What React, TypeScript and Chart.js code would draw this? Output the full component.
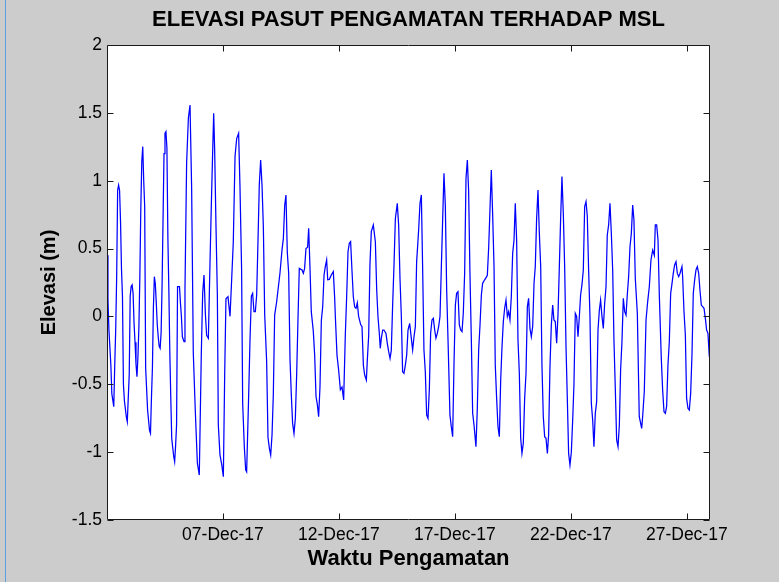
import React, { useEffect, useRef } from "react";
import { Chart, registerables } from "chart.js";

Chart.register(...registerables);

// Time in hours since 02-Dec-2017 00:00, and observed elevation (m) relative to MSL
const hours = [
  0, 1, 2, 4, 5, 7, 8, 9, 10, 11, 12, 13, 14, 15, 16, 17, 18, 20, 21, 22, 23, 24, 25, 26, 27, 28, 29, 30, 31, 32,
  33, 34, 35, 36, 37, 38, 39, 40, 42, 44, 45, 46, 47, 48, 49, 50, 51, 52, 53, 54, 55, 56, 57, 58, 59, 60, 61, 62,
  63, 64, 65, 66, 67, 69, 70, 71, 72, 73, 75, 76, 77, 78,
  79.7, 80.7, 82.4, 84.2, 85.9, 87.6, 89.3, 91.4, 93.5, 95.5, 97.6, 99, 100.4, 101.8, 103.1, 104.9, 106.6, 108,
  109.3, 110.4, 111.4, 112.8, 114.2, 115.2, 116.9, 118.7, 120.4, 121.8, 123.1, 125.2, 127.3, 129, 130.7, 132.5,
  134.2, 136.2, 137.6, 139.3, 140.4, 142.1, 143.5, 144.5, 146.6, 148, 149.4, 150.7, 152.1, 153.5, 154.9, 156.6, 157.6,
  159, 160.4, 161.8, 163.2, 165.2, 166.6, 168, 169.4, 170.8, 172.1, 173.5, 175.6, 179, 181.1, 182.5, 183.9, 185.2,
  186.6, 188, 189.4, 190.8, 192.1, 193.5, 194.9, 196.3, 197.6, 199, 201.8, 203.2, 204.5, 205.9, 207.6, 208.7, 210.1,
  211.4, 213.5, 214.9, 216.3, 217.7, 219, 220.4, 221.8, 223.2, 224.6, 225.9, 227.3, 228.4, 230.1, 232.1, 234.2, 235.6,
  236.3, 238, 239.7, 241.5, 243.2, 244.9, 246.6, 248, 249.4, 250.8, 252.1, 253.5, 254.9, 256.3, 257.7, 259, 260.4,
  262.5, 263.9, 265.3, 266.6, 268.4, 269.4, 270.8, 272.1, 273.5, 275.6, 277.7, 279.1, 280.4, 281.8, 282.8, 283.9,
  285.3, 286.6, 288.7, 290.1, 291.5, 292.9, 294.2, 295.6, 297, 298.4, 300.4, 301.8, 303.2, 304.6, 305.9, 307.3, 308.7,
  310.1, 311.5, 312.8,
  313.2, 314.9, 316.3, 317.7, 319.1, 320.4, 322.5, 323.9, 325.3, 326.6, 328, 329.4, 330.8, 332.2, 333.6, 334.9, 336.3,
  337.7, 339.1, 340.4, 341.8, 343.2, 344.6, 346, 347.3, 348.7, 350.1, 351.5, 352.9, 354.9, 356.3, 357.7, 359.1, 360.5,
  361.8, 363.2, 364.6, 366, 367.4, 368.7, 370.1, 371.5, 372.9, 374.2, 375.6, 377, 378.4, 379.8, 381.8, 383.2, 384.6,
  386, 387.4, 388.7, 390.8, 392.9,
  393.6, 395, 396.3, 397.7, 399.1, 400.5, 401.8, 403.2, 404.6, 406, 407.4, 408.7, 410.1, 411.5, 412.9, 414.3, 415.6,
  417, 418.4, 419.8, 421.2, 422.5, 423.9, 425.3, 426.7, 428.1, 429.4, 430.8, 432.2, 433.6, 435, 436.3, 437.7, 439.1,
  440.5, 441.9, 443.2, 444.6, 446, 447.4, 448.8, 450.1, 451.5, 452.9, 454.3, 455.7, 457, 458.4, 459.8, 461.2, 462.5,
  463.9, 465.3, 466.7, 468.1, 469.4, 470.8,
  472.2, 473.6, 475, 476.3, 477.7, 479.1, 480.5, 481.9, 483.2, 484.6, 486, 487.4, 488.8, 490.1, 491.5, 492.9, 494.3,
  495.7, 497, 498.4, 499.8, 501.2, 502.6, 503.9, 505.3, 506.7, 508.1, 509.5, 510.8, 512.2, 513.6, 515, 516.4, 517.7,
  519.1, 520.5, 521.9, 523.3, 524.6, 526, 527.4, 528.8, 530.2, 531.5, 532.9, 534.3, 535.7, 537.1, 538.4, 539.8, 541.2,
  542.6, 544, 545.3, 546.7, 548.8, 550.8,
  551.5, 552.6, 553.3, 554.3, 556, 557.8, 559.5, 561.2, 562.9, 564.7, 566.4, 567.4, 568.8, 570.2, 571.6, 573.6, 575,
  576.4, 577.8, 579.1, 580.5, 581.9, 583.3, 584.7, 586, 587.4, 588.8, 590.2, 591.6, 593, 595, 595.7, 597.1, 598.5,
  599.8, 601.2, 602.6, 604, 605.4, 606.7, 608.1, 609.5, 610.9, 612.3, 613.6, 615, 616.4, 617.8, 619.2, 620.5, 621.9,
  623.3,
];

const elevation = [
  0.45, 0.12, -0.1, -0.36, -0.57, -0.665, -0.36, -0.1, 0.29, 0.93, 0.968, 0.93, 0.7, 0.35, 0.15, -0.5, -0.62, -0.74,
  -0.776, -0.6, -0.43, 0.15, 0.22, 0.232, 0.17, -0.05, -0.19, -0.35, -0.444, -0.3,
  -0.08, 0.3, 0.8, 1.14, 1.251, 1.0, 0.81, -0.38, -0.69, -0.84, -0.862, -0.6, -0.38, 0.06, 0.293, 0.24, 0.1, -0.06,
  -0.15, -0.22, -0.235, -0.12, 0.23, 0.72, 1.2, 1.35, 1.362, 1.24,
  0.58, 0.2, -0.26, -0.6, -0.9, -1.03, -1.07, -0.95, -0.8, 0.22, 0.22, 0.1, 0.0, -0.15,
  -0.186, 0.2, 1.13, 1.46, 1.558, 0.94, -0.27, -0.7, -1.08, -1.169, -0.27, 0.17, 0.305, 0.02, -0.14, -0.161, 0.4, 0.83,
  1.2, 1.497, 1.23, 0.66, 0.16, -0.8, -1.02, -1.09, -1.181, -0.42, 0.13, 0.146, 0.0, 0.27, 0.55, 1.18,
  1.31, 1.349, 0.96, 0.34, -0.64, -0.96, -1.13, -1.144, -0.58, -0.17, 0.15, 0.17, 0.035, 0.035, 0.16, 0.66, 0.97,
  1.153, 0.97, 0.66, 0.01, -0.33, -0.89, -0.97, -1.021, -0.87, -0.58, 0.01, 0.11, 0.32, 0.49, 0.575, 0.82, 0.895,
  0.47, 0.32, -0.32, -0.59, -0.79, -0.862, -0.75, -0.42, -0.03, 0.354, 0.342, 0.318, 0.354, 0.5, 0.51, 0.649, 0.35,
  0.035, -0.11, -0.285, -0.59, -0.65, -0.739, -0.52, -0.03, 0.07, 0.305, 0.367, 0.416, 0.27, 0.273, 0.305, 0.33, 0.135,
  0.0, -0.285, -0.395, -0.54, -0.52, -0.616, -0.14, 0.145, 0.477, 0.54, 0.551, 0.34, 0.145, 0.07, 0.06, 0.1, 0.0,
  -0.06, -0.075, -0.36, -0.43, -0.469, -0.32, -0.14, 0.38, 0.625, 0.674, 0.55, 0.195, 0.0, -0.125, -0.235, -0.16,
  -0.1, -0.1, -0.125, -0.2, -0.26, -0.309, -0.25, 0.085, 0.38, 0.72, 0.833, 0.674, 0.28, 0.0, -0.408, -0.419, -0.36,
  -0.285, -0.1, -0.063,
  -0.05, -0.16, -0.247, -0.15, -0.075, 0.4, 0.637, 0.833, 0.895, 0.37, -0.247, -0.407, -0.727, -0.751, -0.53, -0.125, -0.026,
  -0.014, -0.1, -0.16, -0.125, -0.075, 0.0, 0.367, 0.7, 1.054, 0.82, 0.195, -0.174, -0.727, -0.813, -0.886, -0.345, 0.084,
  0.17, 0.182, -0.063, -0.1, -0.112, 0.023, 0.317, 1.017, 1.153, 0.93, 0.317, -0.16, -0.714, -0.8, -0.96, -0.68, -0.247,
  -0.063, 0.158, 0.244, 0.27, 0.293,
  0.305, 0.514, 0.784, 1.079, 0.747, 0.367, -0.358, -0.604, -0.813, -0.886, -0.47, -0.235, -0.04, 0.06, 0.121, 0.0, 0.035,
  -0.026, 0.146, 0.465, 0.563, 0.833, 0.563, -0.174, -0.42, -0.898, -1.009, -0.936, -0.604, -0.42, 0.072, 0.133, -0.088, -0.149,
  -0.075, 0.244, 0.367, 0.723, 0.932, 0.612, 0.367, -0.358, -0.739, -0.886, -0.898, -1.009, -0.874, -0.37, -0.063, 0.084, -0.026,
  -0.038, -0.198, 0.01, 0.367, 0.711, 1.03,
  0.76, 0.367, -0.223, -0.59, -1.009, -1.095, -1.0, -0.763, -0.505, 0.023, 0.0, -0.149, 0.0, 0.158, 0.232, 0.342, 0.809,
  0.846, 0.74, 0.342, 0.0, -0.64, -0.763, -0.96, -0.714, -0.628, -0.1, 0.047, 0.121, 0.0, -0.088, 0.096, 0.219, 0.6,
  0.674, 0.833, 0.612, 0.342, -0.174, -0.53, -0.91, -0.96, -0.8, -0.395, -0.186, 0.133, 0.035, 0.01, 0.158, 0.293, 0.514,
  0.612, 0.821, 0.71, 0.28, 0.023, -0.739,
  -0.739, -0.8, -0.825, -0.739, -0.555, -0.026, 0.109, 0.219, 0.416, 0.489, 0.45, 0.674, 0.674, 0.563, 0.146, -0.309, -0.542,
  -0.702, -0.714, -0.665, -0.358, -0.186, 0.17, 0.244, 0.317, 0.379, 0.403, 0.317, 0.293, 0.318, 0.367, 0.293, 0.035, -0.137,
  -0.604, -0.677, -0.69, -0.567, -0.272, 0.17, 0.268, 0.342, 0.367, 0.318, 0.195, 0.084, 0.072, 0.06, -0.014, -0.1, -0.125,
  -0.297,
];

const xMinHour = 0;
const xMaxHour = 624;
const xTickHours = [120, 240, 360, 480, 600];
const xTickLabels = ["07-Dec-17", "12-Dec-17", "17-Dec-17", "22-Dec-17", "27-Dec-17"];
const yTickValues = [-1.5, -1, -0.5, 0, 0.5, 1, 1.5, 2];
const yTickLabels = ["-1.5", "-1", "-0.5", "0", "0.5", "1", "1.5", "2"];

const chartTitle = "ELEVASI PASUT PENGAMATAN TERHADAP MSL";
const xTitle = "Waktu Pengamatan";
const yTitle = "Elevasi (m)";

const W = 779;
const H = 582;
const TICK_FONT = "'Liberation Sans Narrow', 'Arial Narrow', 'Liberation Sans', Arial, sans-serif";
const BOLD_FONT = "'Liberation Sans', Arial, Helvetica, sans-serif";

const framePlugin = {
  id: "matlabFrame",
  beforeDraw(chart: any) {
    const { ctx, chartArea: a } = chart;
    ctx.save();
    ctx.fillStyle = "#ffffff";
    ctx.fillRect(a.left, a.top, a.right - a.left, a.bottom - a.top);
    ctx.restore();
  },
  afterDraw(chart: any) {
    const { ctx, chartArea: a, scales } = chart;
    const L = Math.round(a.left) + 0.5;
    const R = Math.round(a.right) - 0.5;
    const T = Math.round(a.top) + 0.5;
    const B = Math.round(a.bottom) - 0.5;
    const len = 6;
    ctx.save();
    ctx.strokeStyle = "#1a1a1a";
    ctx.lineWidth = 1;
    ctx.beginPath();
    ctx.rect(L, T, R - L, B - T);
    for (const v of yTickValues) {
      const y = Math.round(scales.y.getPixelForValue(v)) + 0.5;
      ctx.moveTo(L, y);
      ctx.lineTo(L + len, y);
      ctx.moveTo(R, y);
      ctx.lineTo(R - len, y);
    }
    for (const v of xTickHours) {
      const x = Math.round(scales.x.getPixelForValue(v)) + 0.5;
      ctx.moveTo(x, B);
      ctx.lineTo(x, B - len);
      ctx.moveTo(x, T);
      ctx.lineTo(x, T + len);
    }
    ctx.stroke();
    ctx.restore();
  },
};

export default function App() {
  const canvasRef = useRef<HTMLCanvasElement | null>(null);

  useEffect(() => {
    const canvas = canvasRef.current;
    if (!canvas) return;
    const points = hours.map((h, i) => ({ x: h, y: elevation[i] }));
    const chart = new Chart(canvas, {
      type: "line",
      data: {
        datasets: [
          {
            data: points,
            borderColor: "#0000ff",
            borderWidth: 1.25,
            pointRadius: 0,
            fill: false,
            tension: 0,
          },
        ],
      },
      options: {
        animation: false,
        responsive: false,
        maintainAspectRatio: false,
        events: [],
        layout: { padding: { left: 0, right: 69, top: 0, bottom: 0 } },
        plugins: {
          legend: { display: false },
          tooltip: { enabled: false },
          title: {
            display: true,
            text: chartTitle,
            fullSize: false,
            color: "#000000",
            font: { family: BOLD_FONT, size: 22, weight: "bold", lineHeight: 1.2 },
            padding: { top: 7, bottom: 11.6 },
          },
        },
        scales: {
          x: {
            type: "linear",
            min: xMinHour,
            max: xMaxHour,
            afterBuildTicks: (s: any) => {
              s.ticks = xTickHours.map((v) => ({ value: v }));
            },
            afterFit: (s: any) => {
              s.height = 62;
            },
            ticks: {
              autoSkip: false,
              maxRotation: 0,
              padding: 5,
              color: "#000000",
              font: { family: TICK_FONT, size: 17.5 },
              callback: (_v: any, i: number) => xTickLabels[i],
            },
            grid: { display: false, drawTicks: false },
            border: { display: false },
            title: {
              display: true,
              text: xTitle,
              color: "#000000",
              font: { family: BOLD_FONT, size: 22, weight: "bold", lineHeight: 1.2 },
              padding: { top: 0, bottom: 9.5 },
            },
          },
          y: {
            type: "linear",
            min: -1.5,
            max: 2,
            afterBuildTicks: (s: any) => {
              s.ticks = yTickValues.map((v) => ({ value: v }));
            },
            afterFit: (s: any) => {
              s.width = 107;
            },
            ticks: {
              padding: 5,
              color: "#000000",
              font: { family: TICK_FONT, size: 17.5 },
              callback: (_v: any, i: number) => yTickLabels[i],
            },
            grid: { display: false, drawTicks: false },
            border: { display: false },
            title: {
              display: true,
              text: yTitle,
              color: "#000000",
              font: { family: BOLD_FONT, size: 20, weight: "bold", lineHeight: 1.2 },
              padding: { top: 37.5, bottom: 0 },
            },
          },
        },
      },
      plugins: [framePlugin],
    });
    return () => chart.destroy();
  }, []);

  return (
    <div
      style={{
        position: "fixed",
        left: 0,
        top: 0,
        width: W,
        height: H,
        background: "#cccccc",
        overflow: "hidden",
      }}
    >
      <div style={{ position: "absolute", left: 5, top: 0, width: 1, height: H, background: "#5a9fe4" }} />
      <canvas
        ref={canvasRef}
        width={W}
        height={H}
        style={{ position: "absolute", left: 0, top: 0, width: W, height: H, display: "block" }}
      />
    </div>
  );
}
